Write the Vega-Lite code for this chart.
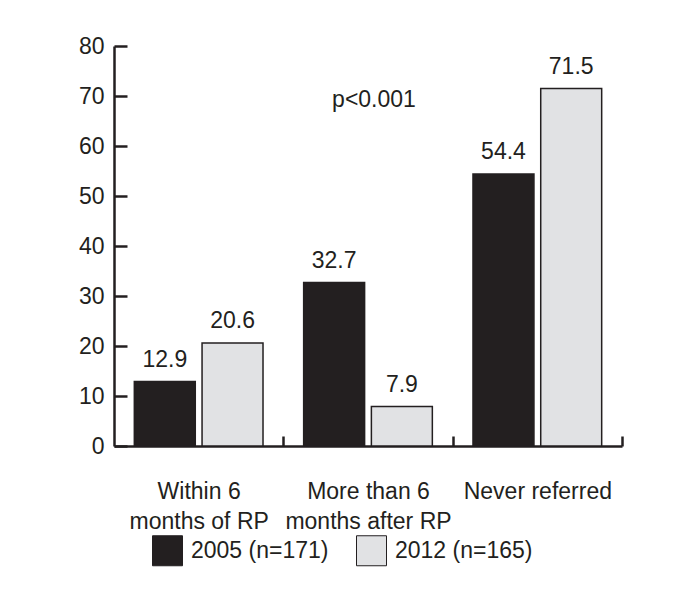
{
  "$schema": "https://vega.github.io/schema/vega-lite/v6.json",
  "width": 508,
  "height": 400,
  "autosize": {"type": "none"},
  "padding": {"left": 114, "top": 46, "right": 55, "bottom": 160},
  "background": "white",
  "config": {
    "view": {"stroke": null},
    "font": "Liberation Sans",
    "text": {"color": "#231f20"},
    "axis": {"labelColor": "#231f20", "domainColor": "#231f20", "tickColor": "#231f20", "labelFont": "Liberation Sans"},
    "legend": {"labelColor": "#231f20", "labelFont": "Liberation Sans"}
  },
  "data": {
    "values": [
      {"cat": "Within 6 months of RP", "year": "2005 (n=171)", "value": 12.9},
      {"cat": "Within 6 months of RP", "year": "2012 (n=165)", "value": 20.6},
      {"cat": "More than 6 months after RP", "year": "2005 (n=171)", "value": 32.7},
      {"cat": "More than 6 months after RP", "year": "2012 (n=165)", "value": 7.9},
      {"cat": "Never referred", "year": "2005 (n=171)", "value": 54.4},
      {"cat": "Never referred", "year": "2012 (n=165)", "value": 71.5}
    ]
  },
  "encoding": {
    "x": {
      "field": "cat",
      "type": "nominal",
      "scale": {"domain": ["Within 6 months of RP", "More than 6 months after RP", "Never referred"], "paddingInner": 0.24, "paddingOuter": 0.12},
      "axis": {
        "title": null,
        "labelAngle": 0,
        "tickOffset": 84.67,
        "labelOffset": -84.67,
        "tickSize": -10,
        "tickWidth": 2.5,
        "domainWidth": 2.5,
        "labelFontSize": 23,
        "labelPadding": 44,
        "labelLineHeight": 30,
        "labelBaseline": "top",
        "labelExpr": "datum.value == 'Within 6 months of RP' ? ['Within 6', 'months of RP'] : datum.value == 'More than 6 months after RP' ? ['More than 6', 'months after RP'] : datum.value"
      }
    },
    "y": {
      "field": "value",
      "type": "quantitative",
      "scale": {"domain": [0, 80], "nice": false},
      "axis": {
        "title": null,
        "values": [0, 10, 20, 30, 40, 50, 60, 70, 80],
        "grid": false,
        "tickSize": -13,
        "tickWidth": 2.5,
        "domainWidth": 2.5,
        "labelFontSize": 23,
        "labelPadding": 23
      }
    }
  },
  "layer": [
    {
      "mark": {"type": "bar", "stroke": "#231f20", "strokeWidth": 1.5},
      "encoding": {
        "xOffset": {"field": "year", "type": "nominal", "scale": {"paddingInner": 0.1}},
        "color": {
          "field": "year",
          "type": "nominal",
          "scale": {"range": ["#231f20", "#e1e2e4"]},
          "legend": {
            "title": null,
            "orient": "none",
            "legendX": 38,
            "legendY": 489,
            "direction": "horizontal",
            "symbolType": "square",
            "symbolSize": 900,
            "symbolStrokeColor": "#231f20",
            "symbolStrokeWidth": 1,
            "symbolOpacity": 1,
            "labelFontSize": 23,
            "labelOffset": 8,
            "columnPadding": 25
          }
        }
      }
    },
    {
      "mark": {"type": "text", "baseline": "bottom", "dy": -10, "fontSize": 23},
      "encoding": {
        "xOffset": {"field": "year", "type": "nominal", "scale": {"paddingInner": 0.1}},
        "text": {"field": "value", "type": "quantitative", "format": ".1f"}
      }
    },
    {
      "data": {"values": [{"cat": "More than 6 months after RP", "value": 69.2, "label": "p<0.001"}]},
      "mark": {"type": "text", "baseline": "middle", "fontSize": 23, "dx": 6},
      "encoding": {
        "text": {"field": "label", "type": "nominal"}
      }
    }
  ]
}
